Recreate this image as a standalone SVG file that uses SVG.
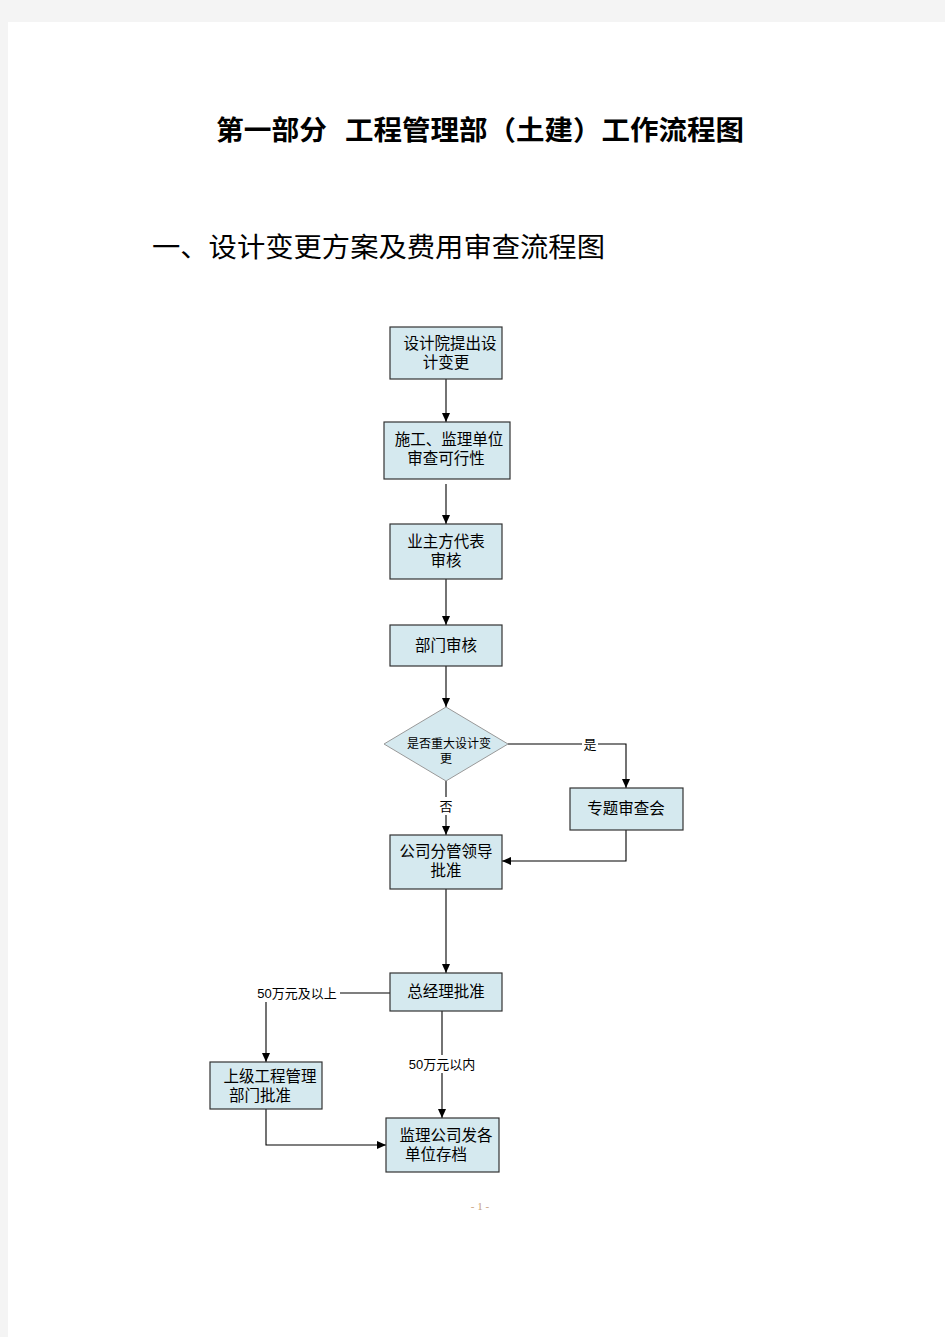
<svg xmlns="http://www.w3.org/2000/svg" width="945" height="1337" viewBox="0 0 945 1337">
<defs>
<marker id="ah" markerWidth="10" markerHeight="10" refX="9" refY="5" orient="auto" markerUnits="userSpaceOnUse">
<path d="M0,1 L9,5 L0,9 Z" fill="#000"/>
</marker>
<style>
.n{fill:#d5e9ef;stroke:#333;stroke-width:1.2}
.t{font-family:"Liberation Sans","Noto Sans CJK SC",sans-serif;font-size:15.5px;fill:#000;text-anchor:middle}
.s{font-family:"Liberation Sans","Noto Sans CJK SC",sans-serif;font-size:12px;fill:#000;text-anchor:middle}
.l{font-family:"Liberation Sans","Noto Sans CJK SC",sans-serif;font-size:13px;fill:#000;text-anchor:middle}
.c{fill:none;stroke:#000;stroke-width:1.1;marker-end:url(#ah)}
.h{font-family:"Noto Sans CJK SC",sans-serif;font-size:27px;font-weight:bold}
</style>
</defs>
<rect x="0" y="0" width="945" height="1337" fill="#f4f4f4"/>
<rect x="8" y="22" width="937" height="1315" fill="#fff"/>
<text class="h" x="216" y="140" textLength="111" lengthAdjust="spacingAndGlyphs">第一部分</text>
<text class="h" x="345" y="140" textLength="399" lengthAdjust="spacingAndGlyphs">工程管理部（土建）工作流程图</text>
<text x="152" y="257" font-family="'Noto Sans CJK SC',sans-serif" font-size="27" textLength="453" lengthAdjust="spacingAndGlyphs">一、设计变更方案及费用审查流程图</text>

<g id="connectors">
<line class="c" x1="446" y1="379" x2="446" y2="422"/>
<line class="c" x1="446" y1="484" x2="446" y2="524"/>
<line class="c" x1="446" y1="579" x2="446" y2="625"/>
<line class="c" x1="446" y1="666" x2="446" y2="707"/>
<polyline class="c" points="508,744 626,744 626,788"/>
<line class="c" x1="446" y1="781" x2="446" y2="835"/>
<polyline class="c" points="626,830 626,861 502,861"/>
<line class="c" x1="446" y1="889" x2="446" y2="973"/>
<polyline class="c" points="390,993 266,993 266,1062"/>
<line class="c" x1="442" y1="1011" x2="442" y2="1118"/>
<polyline class="c" points="266,1109 266,1145 386,1145"/>
<rect x="582" y="735" width="16" height="18" fill="#fff"/>
<text class="l" x="590" y="749">是</text>
<rect x="438" y="797" width="16" height="18" fill="#fff"/>
<text class="l" x="446" y="811">否</text>
<rect x="254" y="984" width="86" height="18" fill="#fff"/>
<text class="l" x="297" y="998">50万元及以上</text>
<rect x="406" y="1055" width="72" height="18" fill="#fff"/>
<text class="l" x="442" y="1069">50万元以内</text>
</g>

<g id="n1"><rect class="n" x="390" y="327" width="112" height="52"/><text class="t" x="450" y="349">设计院提出设</text><text class="t" x="446" y="368">计变更</text></g>
<g id="n2"><rect class="n" x="384" y="422" width="126" height="57"/><text class="t" x="449" y="445">施工、监理单位</text><text class="t" x="446" y="464">审查可行性</text></g>
<g id="n3"><rect class="n" x="390" y="524" width="112" height="55"/><text class="t" x="446" y="547">业主方代表</text><text class="t" x="446" y="566">审核</text></g>
<g id="n4"><rect class="n" x="390" y="625" width="112" height="41"/><text class="t" x="446" y="651">部门审核</text></g>
<g id="n5"><polygon points="446,707 508,744 446,781 384,744" fill="#d5e9ef" stroke="#999" stroke-width="1"/><text class="s" x="449" y="748">是否重大设计变</text><text class="s" x="446" y="763">更</text></g>
<g id="n6"><rect class="n" x="570" y="788" width="113" height="42"/><text class="t" x="626" y="814">专题审查会</text></g>
<g id="n7"><rect class="n" x="390" y="835" width="112" height="54"/><text class="t" x="446" y="857">公司分管领导</text><text class="t" x="446" y="876">批准</text></g>
<g id="n8"><rect class="n" x="390" y="973" width="112" height="38"/><text class="t" x="446" y="997">总经理批准</text></g>
<g id="n9"><rect class="n" x="210" y="1062" width="112" height="47"/><text class="t" x="270" y="1082">上级工程管理</text><text class="t" x="260" y="1101">部门批准</text></g>
<g id="n10"><rect class="n" x="386" y="1118" width="113" height="54"/><text class="t" x="446" y="1141">监理公司发各</text><text class="t" x="436" y="1160">单位存档</text></g>
<text x="480" y="1210" font-family="'Liberation Serif',serif" font-size="11" fill="#c8a080" text-anchor="middle">- 1 -</text>
</svg>
